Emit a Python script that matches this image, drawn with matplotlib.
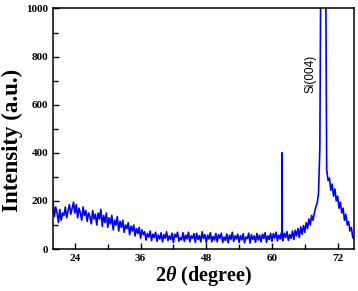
import numpy as np
import matplotlib
matplotlib.use("Agg")
import matplotlib.pyplot as plt
from matplotlib.ticker import MultipleLocator

plt.rcParams['mathtext.fontset'] = 'custom'
plt.rcParams['mathtext.it'] = 'Liberation Serif:italic:bold'
plt.rcParams['mathtext.rm'] = 'Liberation Serif:bold'

# 2-theta grid of the scan (degrees) and read-off intensities
two_theta = np.arange(20, 75.001, 0.25)
intensity = [
    200, 135, 175, 150, 110, 165, 120, 150,
    140, 175, 130, 160, 185, 145, 170, 195,
    150, 185, 130, 170, 150, 120, 175, 140,
    160, 115, 150, 135, 105, 160, 125, 145,
    100, 150, 125, 165, 95, 140, 110, 150,
    90, 130, 105, 140, 80, 120, 100, 135,
    75, 115, 90, 120, 70, 100, 85, 110,
    60, 95, 75, 100, 55, 85, 65, 90,
    45, 80, 60, 72, 38, 65, 50, 75,
    35, 62, 48, 70, 32, 58, 42, 68,
    30, 60, 45, 72, 35, 55, 40, 66,
    28, 62, 50, 70, 33, 48, 38, 68,
    32, 58, 42, 70, 30, 55, 45, 64,
    28, 66, 40, 56, 30, 72, 44, 60,
    27, 58, 42, 68, 30, 52, 38, 65,
    30, 60, 45, 66, 28, 50, 36, 63,
    26, 58, 40, 70, 32, 55, 42, 62,
    28, 56, 38, 64, 26, 50, 44, 66,
    25, 60, 40, 55, 28, 65, 38, 58,
    30, 62, 44, 68, 28, 55, 40, 66,
    32, 64, 46, 70, 34, 58, 42, 68,
    35, 66, 48, 72, 36, 60, 45, 75,
    40, 78, 55, 85, 48, 92, 62, 98,
    70, 110, 85, 125, 100, 140, 120, 150,
    175, 190, 230, 420, 1500, 3000, 3000, 1500,
    330, 285, 295, 245, 270, 220, 250, 200,
    220, 170, 195, 150, 170, 120, 145, 100,
    115, 75, 90, 50, 40,
]

# narrow spike near 61.85 degrees
spike_theta = [61.82, 61.85, 61.88]
spike_int = [48, 400, 50]

x_all = np.concatenate([two_theta, spike_theta])
y_all = np.concatenate([intensity, spike_int])
order = np.argsort(x_all)
x_all = x_all[order]
y_all = y_all[order]

x_ticks = [24, 36, 48, 60, 72]
y_ticks = [0, 200, 400, 600, 800, 1000]
peak_label = "Si(004)"

fig = plt.figure(figsize=(3.58, 2.91), dpi=100)
ax = fig.add_axes([0.148, 0.144, 0.841, 0.827])
ax.plot(x_all, y_all, color='#0000ff', lw=1.2)
ax.set_xlim(20, 75)
ax.set_ylim(0, 1000)
ax.set_xticks(x_ticks)
ax.set_yticks(y_ticks)
ax.xaxis.set_minor_locator(MultipleLocator(6))
ax.yaxis.set_minor_locator(MultipleLocator(100))
ax.tick_params(which='both', direction='in', top=False, right=False, width=1.0)
ax.tick_params(which='major', length=4)
ax.tick_params(which='minor', length=3.5)
for lab in ax.get_xticklabels() + ax.get_yticklabels():
    lab.set_fontfamily('Liberation Serif')
    lab.set_fontweight('bold')
    lab.set_fontsize(8)
for s in ax.spines.values():
    s.set_linewidth(1.1)

ax.set_ylabel('Intensity (a.u.)', family='Liberation Serif', fontweight='bold', fontsize=16.5)
ax.yaxis.set_label_coords(-0.10, 0.45)
ax.set_xlabel(r'2$\theta$ (degree)', family='Liberation Serif', fontweight='bold', fontsize=14.5, labelpad=1)

ax.text(67.0, 730, peak_label, rotation=90, ha='center', va='center',
        family='Liberation Sans', fontsize=8.5)

fig.savefig('out.png', dpi=100)
